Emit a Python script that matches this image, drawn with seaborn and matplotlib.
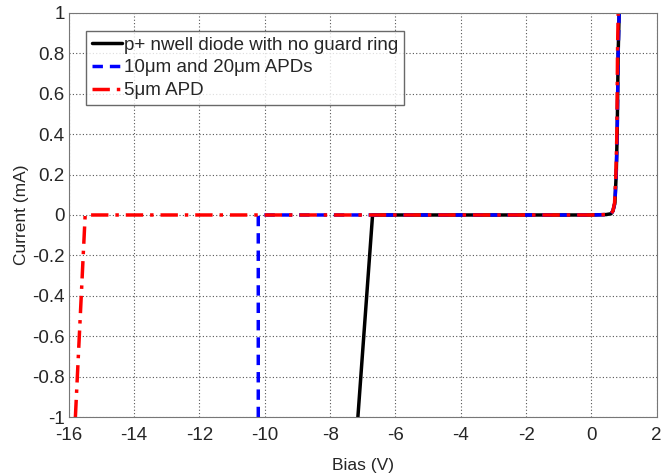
import numpy as np
import pandas as pd
import matplotlib
matplotlib.use("Agg")
import matplotlib.pyplot as plt
import seaborn as sns

# I-V curves
diode_v = [-7.15, -6.7, -2.0, 0.0, 0.45, 0.6, 0.66, 0.72, 0.76, 0.79, 0.82, 0.85]
diode_i = [-1.0, 0.0, 0.0, 0.0, 0.002, 0.006, 0.02, 0.06, 0.2, 0.4, 0.8, 1.0]

apd10_v = [-10.2, -10.2, -2.0, 0.0, 0.45, 0.6, 0.66, 0.72, 0.76, 0.79, 0.82, 0.85]
apd10_i = [-1.0, 0.0, 0.0, 0.0, 0.002, 0.006, 0.02, 0.06, 0.2, 0.4, 0.8, 1.0]

apd5_v = [-15.8, -15.5, -2.0, 0.0, 0.45, 0.6, 0.66, 0.71, 0.75, 0.78, 0.8, 0.82]
apd5_i = [-1.0, 0.0, 0.0, 0.0, 0.002, 0.006, 0.02, 0.06, 0.2, 0.4, 0.8, 1.0]

labels = ["p+ nwell diode with no guard ring", "10\u03bcm and 20\u03bcm APDs", "5\u03bcm APD"]

sns.set_style("white")
plt.rcParams['font.family'] = ['Liberation Sans', 'DejaVu Sans']
plt.rcParams['axes.unicode_minus'] = False

fig = plt.figure(figsize=(6.62, 4.73), dpi=100)
ax = fig.add_axes([0.104, 0.118, 0.888, 0.855])

sns.lineplot(x=diode_v, y=diode_i, sort=False, estimator=None, color="black", lw=2.5,
             ax=ax, label=labels[0])
sns.lineplot(x=apd10_v, y=apd10_i, sort=False, estimator=None, color="blue", lw=2.5,
             ax=ax, label=labels[1], linestyle=(0, (3, 2)))
sns.lineplot(x=apd5_v, y=apd5_i, sort=False, estimator=None, color="red", lw=2.5,
             ax=ax, label=labels[2], linestyle=(0, (5, 2, 1, 2)))

ax.set_xlim(-16, 2)
ax.set_ylim(-1, 1)
ax.set_xticks(np.arange(-16, 3, 2))
ax.set_yticks(np.arange(-1, 1.01, 0.2))
ax.set_yticklabels(["-1", "-0.8", "-0.6", "-0.4", "-0.2", "0", "0.2", "0.4", "0.6", "0.8", "1"])
ax.grid(True, linestyle=(0, (1, 2)), color="#555555", lw=0.8)
for s in ax.spines.values():
    s.set_color("#777777")
ax.tick_params(labelsize=13.5, length=0)
ax.tick_params(axis="y", pad=3)
ax.tick_params(axis="x", pad=7)
ax.set_xlabel("Bias (V)", fontsize=12.5, labelpad=10)
ax.set_ylabel("Current (mA)", fontsize=12.5, labelpad=2)

leg = ax.legend(loc="upper left", bbox_to_anchor=(0.029, 0.955), fontsize=13.5,
                frameon=True, fancybox=False, handlelength=1.6, handletextpad=0.15,
                borderpad=0.3, labelspacing=0.3, borderaxespad=0)
leg.get_frame().set_edgecolor("#444444")
leg.get_frame().set_linewidth(1.0)

fig.savefig("out.png", dpi=100)
